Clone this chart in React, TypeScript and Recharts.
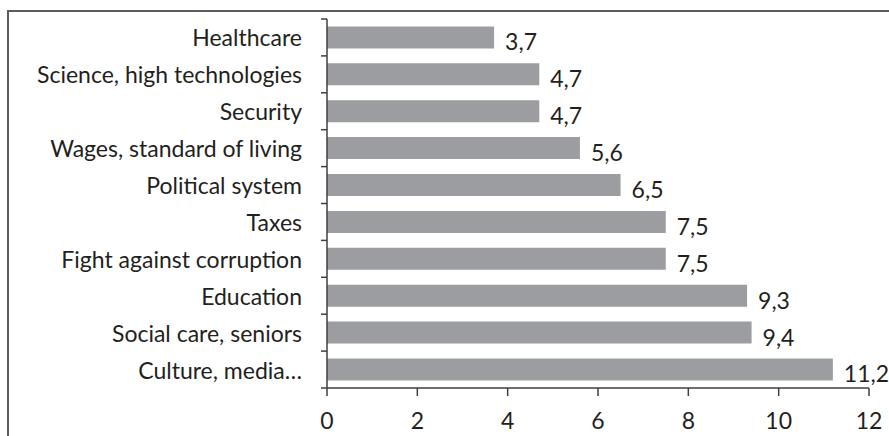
import { Bar, BarChart, LabelList, XAxis, YAxis } from "recharts";

const categories = [
  "Healthcare",
  "Science, high technologies",
  "Security",
  "Wages, standard of living",
  "Political system",
  "Taxes",
  "Fight against corruption",
  "Education",
  "Social care, seniors",
  "Culture, media…",
];

const shares = [3.7, 4.7, 4.7, 5.6, 6.5, 7.5, 7.5, 9.3, 9.4, 11.2];

const xTicks = [0, 2, 4, 6, 8, 10, 12];

const data = categories.map((name, i) => ({ name, value: shares[i] }));

const FONT = "Lato, 'Open Sans', sans-serif";
const TEXT = "#231f20";
const AXIS = "#3f3f3f";
const BAR = "#9c9da0";

const PLOT_TOP = 19;
const PLOT_BOTTOM = 388;
const BAND = (PLOT_BOTTOM - PLOT_TOP) / categories.length;

const CategoryTick = (props: any) => {
  const { x, y, payload, index } = props;
  return (
    <g>
      <line x1={x - 6} x2={x} y1={y - BAND / 2} y2={y - BAND / 2} stroke={AXIS} strokeWidth={1.5} />
      {index === categories.length - 1 && (
        <line x1={x - 6} x2={x} y1={y + BAND / 2} y2={y + BAND / 2} stroke={AXIS} strokeWidth={1.5} />
      )}
      <text
        x={x - 25}
        y={y}
        textAnchor="end"
        dominantBaseline="central"
        fill={TEXT}
        fontSize={23}
        fontFamily={FONT}
      >
        {payload.value}
      </text>
    </g>
  );
};

const ValueLabel = (props: any) => {
  const { x, y, width, height, value } = props;
  return (
    <text
      x={x + width + 11}
      y={y + height / 2 + 4}
      dominantBaseline="central"
      fill={TEXT}
      fontSize={23}
      fontFamily={FONT}
    >
      {String(value).replace(".", ",")}
    </text>
  );
};

export default function App() {
  return (
    <div
      style={{
        position: "absolute",
        left: 0,
        top: 0,
        width: 889,
        height: 436,
        overflow: "hidden",
        background: "#fff",
        fontFamily: FONT,
      }}
    >
      <div
        style={{
          position: "absolute",
          left: 7,
          top: 10,
          width: 920,
          height: 460,
          borderTop: "2px solid #5b5b5b",
          borderLeft: "2px solid #5b5b5b",
        }}
      />
      <BarChart
        width={889}
        height={436}
        data={data}
        layout="vertical"
        margin={{ top: PLOT_TOP, right: 20, bottom: 0, left: 0 }}
        barCategoryGap="20%"
        style={{ position: "absolute", left: 0, top: 0 }}
      >
        <XAxis
          type="number"
          domain={[0, 12]}
          ticks={xTicks}
          height={48}
          tickSize={8}
          tickMargin={17}
          stroke={AXIS}
          axisLine={{ stroke: AXIS, strokeWidth: 1.5 }}
          tickLine={{ stroke: AXIS, strokeWidth: 1.5 }}
          tick={{ fill: TEXT, fontSize: 23, fontFamily: FONT }}
        />
        <YAxis
          type="category"
          dataKey="name"
          width={327}
          tickSize={0}
          tickMargin={0}
          tickLine={false}
          interval={0}
          axisLine={{ stroke: AXIS, strokeWidth: 1.5 }}
          tick={<CategoryTick />}
        />
        <Bar dataKey="value" fill={BAR} isAnimationActive={false}>
          <LabelList dataKey="value" content={<ValueLabel />} />
        </Bar>
      </BarChart>
    </div>
  );
}
